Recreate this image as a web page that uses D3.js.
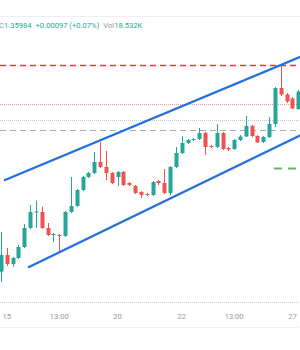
<!doctype html>
<html>
<head>
<meta charset="UTF-8">
<title>GBPUSD channel</title>
<script src="https://cdn.jsdelivr.net/npm/d3@7/dist/d3.min.js"></script>
<style>
    body { margin: 0; background: #fff; }
    svg { display: block; font-family: Roboto, "Open Sans", sans-serif; }
</style>
</head>
<body>
<div id="chart"></div>
<script>
    var width = 300,
        height = 350;

    // candles, oldest first
    var opens  = [1.34183,1.3435,1.3426,1.3432,1.3443,1.3462,1.34775,1.3478,1.3462,1.3455,1.3455,1.3454,1.3478,1.3484,1.3500,1.3513,1.3517,1.3528,1.3523,1.3517,1.3513,1.3518,1.3507,1.3504,1.3498,1.3496,1.3495,1.3509,1.3507,1.3497,1.3523,1.3537,1.3547,1.3550,1.3551,1.3557,1.3544,1.3543,1.3557,1.3542,1.3541,1.3550,1.35535,1.3564,1.3554,1.3548,1.3553,1.3566,1.3602,1.35955,1.35915,1.35807];
    var highs  = [1.3458,1.3442,1.3433,1.3445,1.3466,1.3485,1.34893,1.34833,1.3467,1.3457,1.3456,1.3479,1.3513,1.3501,1.3514,1.3518,1.3538,1.3548,1.3539,1.3518,1.3519,1.3519,1.3508,1.3505,1.3499,1.3497,1.3509,1.3510,1.3521,1.3524,1.3543,1.3554,1.3551,1.3552,1.3562,1.3558,1.3545,1.3566,1.3558,1.3543,1.3551,1.3555,1.3574,1.3565,1.3555,1.3554,1.3573,1.3603,1.3626,1.3597,1.3593,1.3600];
    var lows   = [1.3408,1.3424,1.3423,1.3431,1.3442,1.3461,1.3462,1.3461,1.3454,1.3448,1.3439,1.3453,1.3477,1.3483,1.3499,1.3512,1.3516,1.3522,1.3510,1.3506,1.3504,1.3504,1.3504,1.3496,1.3492,1.3494,1.3494,1.3505,1.3496,1.3495,1.3522,1.3536,1.3546,1.3549,1.3550,1.3535,1.3542,1.3542,1.3540,1.3539,1.3540,1.3549,1.3553,1.3553,1.3547,1.3547,1.3552,1.3563,1.3594,1.3587,1.3581,1.3581];
    var closes = [1.3435,1.3426,1.3432,1.3443,1.3462,1.3478,1.34785,1.3462,1.3455,1.3456,1.3454,1.3478,1.3484,1.3500,1.3513,1.3517,1.3528,1.3523,1.3517,1.3507,1.3518,1.3505,1.3505,1.3497,1.3495,1.3495,1.3508,1.3507,1.3497,1.3523,1.3537,1.3547,1.3550,1.3551,1.3557,1.3543,1.3543,1.3557,1.3541,1.35405,1.3550,1.35535,1.3564,1.3554,1.35475,1.3553,1.3566,1.3602,1.35955,1.35885,1.35815,1.35984];

    var tickIdx    = [1, 10, 20, 31, 40, 50];
    var tickLabels = ["15", "13:00", "20", "22", "13:00", "27"];

    // drawn levels
    var redLevel = 1.3625, pinkLevel = 1.3586, grayDotLevel = 1.3570, grayDashLevel = 1.3560;
    var greenLevel = 1.35215, greenStart = 47;
    var bottomLevel = 1.3388;

    // channel lines [index, price]
    var upperLine = [[0.69, 1.3510], [51.3, 1.3633]];
    var lowerLine = [[4.8, 1.3423], [51.3, 1.35545]];

    var data = opens.map(function (o, i) {
        return { i: i, o: o, h: highs[i], l: lows[i], c: closes[i] };
    });

    var x = d3.scaleLinear().domain([0, 51]).range([1, 298.3]);
    var y = d3.scaleLinear().domain([bottomLevel, 1.3674]).range([302, 16]);

    var svg = d3.select("#chart")
        .append("svg")
        .attr("width", width)
        .attr("height", height);

    svg.append("line")
        .attr("x1", 0).attr("x2", width)
        .attr("y1", y(1.3674) + 0.5).attr("y2", y(1.3674) + 0.5)
        .style("stroke", "#eceef3");

    // header
    var head = svg.append("text")
        .attr("x", -1)
        .attr("y", 28)
        .style("font-size", "7.6px");
    head.append("tspan").text("C").style("fill", "#9598a1");
    head.append("tspan").text("1.35984").style("fill", "#22ab94");
    head.append("tspan").attr("dx", 4).text("+0.00097 (+0.07%)").style("fill", "#22ab94");
    head.append("tspan").attr("dx", 4).text("Vol").style("fill", "#9598a1");
    head.append("tspan").text("18.532K").style("fill", "#22ab94");

    function hline(p, color, dash, w) {
        svg.append("line")
            .attr("x1", 0).attr("x2", width)
            .attr("y1", Math.round(y(p)) + 0.5).attr("y2", Math.round(y(p)) + 0.5)
            .style("stroke", color)
            .style("stroke-width", w || 1)
            .style("stroke-dasharray", dash);
    }

    hline(redLevel, "#f0323f", "6,4", 1.3);
    hline(pinkLevel, "#f09aa8", "1,1");
    hline(grayDotLevel, "#c4c6cc", "1,1");
    hline(grayDashLevel, "#a9acb4", "6,4");
    hline(bottomLevel, "#c9cbd1", "1,1");

    svg.append("line")
        .attr("x1", 0).attr("x2", width)
        .attr("y1", 327.5).attr("y2", 327.5)
        .style("stroke", "#dfe1e6")
        .style("stroke-dasharray", "1,1");

    svg.append("line")
        .attr("x1", x(greenStart) - 1).attr("x2", width)
        .attr("y1", y(greenLevel)).attr("y2", y(greenLevel))
        .style("stroke", "#5cb85f")
        .style("stroke-width", 1.8)
        .style("stroke-dasharray", "8,6");

    // candles
    var bw = 4;
    var candles = svg.selectAll(".candle")
        .data(data)
        .enter()
        .append("g")
        .attr("class", "candle");

    candles.append("line")
        .attr("x1", function (d) { return Math.round(x(d.i)) + 0.5; })
        .attr("x2", function (d) { return Math.round(x(d.i)) + 0.5; })
        .attr("y1", function (d) { return y(d.h); })
        .attr("y2", function (d) { return y(d.l); })
        .style("stroke", function (d) { return d.c >= d.o ? "#26a69a" : "#ef5350"; })
        .style("stroke-width", 1);

    candles.append("rect")
        .attr("x", function (d) { return Math.round(x(d.i)) + 0.5 - bw / 2; })
        .attr("width", bw)
        .attr("y", function (d) { return y(Math.max(d.o, d.c)); })
        .attr("height", function (d) { return Math.max(1, Math.abs(y(d.o) - y(d.c))); })
        .style("fill", function (d) { return d.c >= d.o ? "#26a69a" : "#ef5350"; });

    // channel
    function chan(pts) {
        var x1 = x(pts[0][0]), y1 = y(pts[0][1]);
        var x2 = x(pts[1][0]), y2 = y(pts[1][1]);
        var k = (y2 - y1) / (x2 - x1);
        svg.append("line")
            .attr("x1", x1).attr("y1", y1)
            .attr("x2", width + 10).attr("y2", y1 + k * (width + 10 - x1))
            .style("stroke", "#2370dc")
            .style("stroke-width", 2.4)
            .style("stroke-linecap", "round");
    }
    chan(upperLine);
    chan(lowerLine);

    // time labels
    svg.selectAll(".tick")
        .data(tickIdx)
        .enter()
        .append("text")
        .attr("class", "tick")
        .attr("x", function (d) { return x(d); })
        .attr("y", 319)
        .attr("text-anchor", "middle")
        .style("font-size", "7.6px")
        .style("fill", "#9598a1")
        .text(function (d, i) { return tickLabels[i]; });
</script>
</body>
</html>
